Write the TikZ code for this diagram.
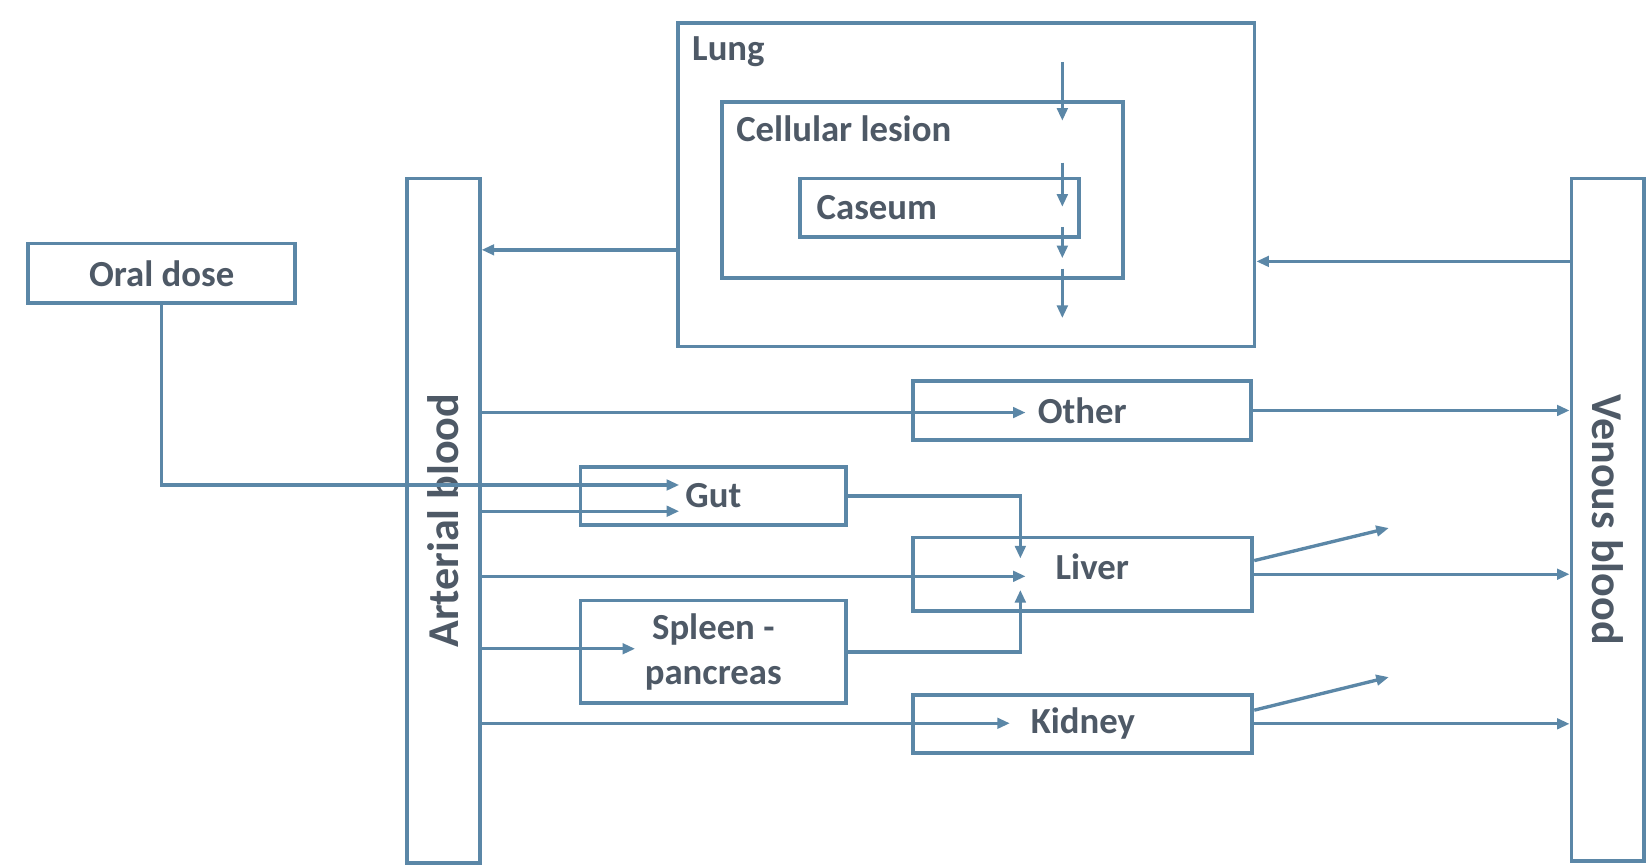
\documentclass[tikz,border=0pt]{standalone}
\usepackage{fontspec}
\newfontfamily\pkFace{Carlito}
\usetikzlibrary{arrows.meta,calc}
\definecolor{pkLine}{HTML}{5B87A7}
\definecolor{pkInk}{HTML}{4E5966}
\newcommand{\PKType}{\pkFace\bfseries\fontsize{35}{43}\selectfont}
\newcommand{\PKBig}{\pkFace\bfseries\fontsize{42}{46}\selectfont}
\tikzset{pk/base/.style={x=1pt,y=-1pt,line cap=butt,line join=miter,
  every node/.style={font=\PKType,inner sep=0pt,text=pkInk}},
  pk/arrow/.style={-{Triangle[length=12pt,width=10pt]},draw=pkLine,line width=3.2pt},
  pk/box/.style={draw=pkLine,fill=white,line width=3.6pt,align=center},
  pk/tag/.style={anchor=north west,xshift=15pt,yshift=-15pt,font=\PKType}}

\begin{document}
\begin{tikzpicture}[pk/base]
  \useasboundingbox (0,0) rectangle (1568,825);
  % blood pools on both sides
  \node[pk/box,minimum width=69pt,minimum height=652pt] (art) at (422.5,496) {};
  \node[rotate=90,font=\PKBig] (artLbl) at (art.center) {Arterial blood};
  \node[pk/box,minimum width=69pt,minimum height=650pt] (ven) at (1531.5,495) {};
  \node[rotate=-90,font=\PKBig] (venLbl) at (ven.center) {Venous blood};
  \node[pk/box,minimum width=254pt,minimum height=57pt] (oral) at (154,260.5) {Oral dose};
  % lung with the lesion and caseum nested inside
  \node[pk/box,minimum width=549pt,minimum height=308pt,
    label={[pk/tag]north west:Lung}] (lung) at (920.5,176) {};
  \node[pk/box,minimum width=382pt,minimum height=168pt,
    label={[pk/tag]north west:Cellular lesion}] (lesion) at (879,181) {};
  \node[pk/box,minimum height=56pt,text width=234pt,inner xsep=16pt,align=left]
    (caseum) at (895,198) {Caseum};
  \node[pk/box,minimum width=322pt,minimum height=56pt] (other) at (1031,391) {Other};
  \node[pk/box,minimum width=253pt,minimum height=55pt] (gut) at (679.5,472.5) {Gut};
  \node[pk/box,minimum width=323pt,minimum height=70pt] (liver) at (1031.5,547)
    {\hspace*{18pt}\raisebox{14pt}{Liver}};
  \node[pk/box,minimum width=253pt,minimum height=98pt] (spleen) at (679.5,621) {Spleen -\\pancreas};
  \node[pk/box,minimum width=323pt,minimum height=55pt] (kidney) at (1031.5,689.5) {Kidney};
  % where the open arrows stop
  \coordinate (otherIn) at (977,393);
  \coordinate (gutInA) at (647,462);
  \coordinate (gutInB) at (647,487);
  \coordinate (liverInT) at (972,532);
  \coordinate (liverInL) at (977,549);
  \coordinate (liverInB) at (972,562);
  \coordinate (spleenIn) at (605,618);
  \coordinate (kidneyIn) at (962,689);
  \coordinate (liverOut) at (1323,503);
  \coordinate (kidneyOut) at (1323,645);
  \foreach \a/\b in {59/115,155/197,216/246,256/303}
    \draw[pk/arrow] (1012,\a) -- (1012,\b);
  \draw[pk/arrow] (lung.west |- 0,238) -- (art.east |- 0,238);
  \draw[pk/arrow] (ven.west |- 0,249) -- (lung.east |- 0,249);
  \draw[pk/arrow] (art.east |- otherIn) -- (otherIn);
  \draw[pk/arrow] (other.east) -- (ven.west |- other.east);
  \draw[pk/arrow] (oral.south) |- (gutInA);
  \draw[pk/arrow] (art.east |- gutInB) -- (gutInB);
  \draw[pk/arrow] (gut.east) -| (liverInT);
  \draw[pk/arrow] (art.east |- liverInL) -- (liverInL);
  \draw[pk/arrow] (art.east |- spleenIn) -- (spleenIn);
  \draw[pk/arrow] (spleen.east) -| (liverInB);
  \draw[pk/arrow] (liver.east) -- (ven.west |- liver.east);
  \draw[pk/arrow] ([yshift=13pt]liver.east) -- (liverOut);
  \draw[pk/arrow] (art.east |- kidneyIn) -- (kidneyIn);
  \draw[pk/arrow] (kidney.east) -- (ven.west |- kidney.east);
  \draw[pk/arrow] ([yshift=13pt]kidney.east) -- (kidneyOut);
\end{tikzpicture}
\end{document}
